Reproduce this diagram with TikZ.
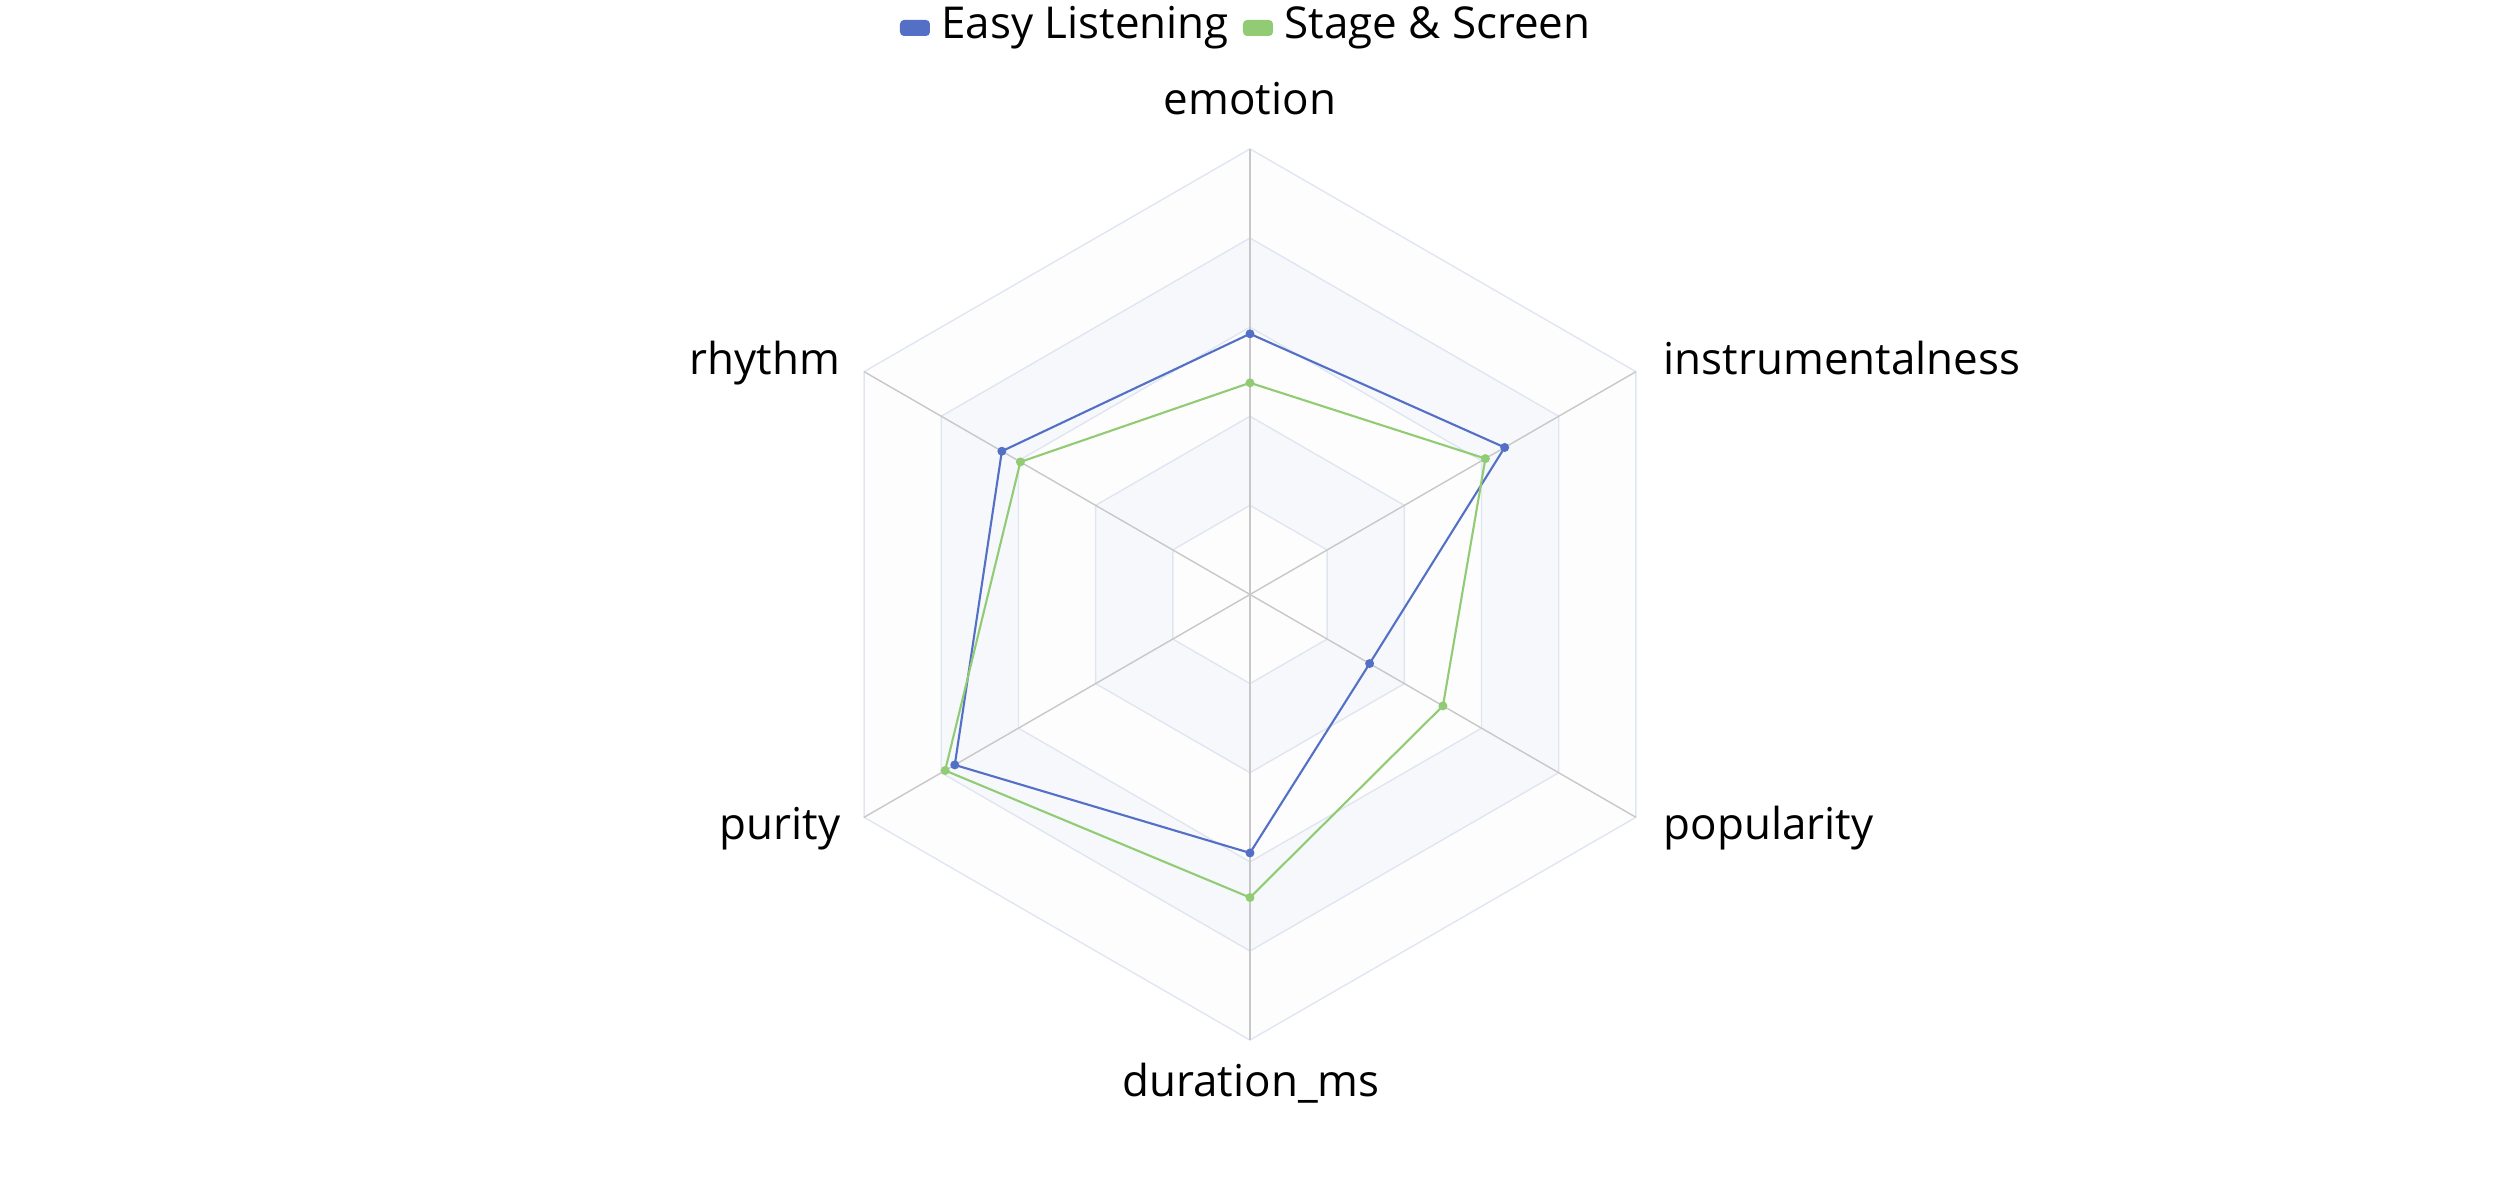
\documentclass[tikz,border=0pt]{standalone}
\usepackage{fontspec}
\setmainfont{Open Sans}
\usepackage{xcolor}
\usetikzlibrary{positioning,calc}
\definecolor{easyblue}{RGB}{84,112,198}
\definecolor{stagegreen}{RGB}{145,204,117}
\definecolor{splitline}{RGB}{224,230,241}
\definecolor{axisgray}{RGB}{200,200,200}
\definecolor{bandlight}{RGB}{246,248,252}
\definecolor{bandpale}{RGB}{253,253,253}
\tikzset{
    axislabel/.style={inner sep=0pt, font=\fontsize{12.5pt}{15pt}\selectfont},
    ring/.style={draw=splitline, line width=0.4pt},
    spoke/.style={draw=axisgray, line width=0.4pt},
    series/.style={line width=0.6pt, line join=round},
    marker/.style={circle, inner sep=0pt, minimum size=0.09cm},
    legendkey/.style={rectangle, rounded corners=0.04cm, inner sep=0pt, minimum width=0.30cm, minimum height=0.16cm}
}

\begin{document}
\begin{tikzpicture}
    \useasboundingbox (-12.50,-5.955) rectangle (12.52,5.945);
    \coordinate (centre) at (0,0);
    % shaded bands
    \foreach \r/\col in {5/bandpale,4/bandlight,3/bandpale,2/bandlight,1/bandpale}
        \fill[\col] (90:{\r*0.8912}) \foreach \a in {30,-30,-90,-150,150}{ -- (\a:{\r*0.8912})} -- cycle;
    % split lines
    \foreach \r in {1,...,5}
        \draw[ring] (90:{\r*0.8912}) \foreach \a in {30,-30,-90,-150,150}{ -- (\a:{\r*0.8912})} -- cycle;
    % axes
    \foreach \a in {90,30,-30,-90,-150,150} {
        \coordinate (ax\a) at (\a:4.456);
        \draw[spoke] (centre) -- (ax\a);
    }

    % Easy Listening
    \foreach \a/\v [count=\i] in {90/0.585,30/0.66,-30/0.31,-90/0.58,-150/0.765,150/0.643}
        \coordinate (easy\i) at (\a:{\v*4.456});
    \draw[series, easyblue] (easy1) -- (easy2) -- (easy3) -- (easy4) -- (easy5) -- (easy6) -- cycle;
    \foreach \i in {1,...,6}
        \node[marker, fill=easyblue] (easydot\i) at (easy\i) {};

    % Stage & Screen
    \foreach \a/\v [count=\i] in {90/0.475,30/0.61,-30/0.50,-90/0.68,-150/0.79,150/0.595}
        \coordinate (stage\i) at (\a:{\v*4.456});
    \draw[series, stagegreen] (stage1) -- (stage2) -- (stage3) -- (stage4) -- (stage5) -- (stage6) -- cycle;
    \foreach \i in {1,...,6}
        \node[marker, fill=stagegreen] (stagedot\i) at (stage\i) {};

    % axis names
    \node[axislabel, anchor=base] (emotion) at (0,4.795) {emotion};
    \node[axislabel, anchor=base west] (instrumentalness) at (4.13,2.195) {instrumentalness};
    \node[axislabel, anchor=base west] (popularity) at (4.13,-2.448) {popularity};
    \node[axislabel, anchor=base] (duration) at (0.01,-5.022) {duration\_ms};
    \node[axislabel, anchor=base east] (purity) at (-4.09,-2.448) {purity};
    \node[axislabel, anchor=base east] (rhythm) at (-4.09,2.195) {rhythm};

    % legend
    \node[legendkey, fill=easyblue] (keyeasy) at (-3.35,5.665) {};
    \node[axislabel, right=0.10cm of keyeasy] (txteasy) {Easy Listening};
    \node[legendkey, fill=stagegreen] (keystage) at (0.08,5.665) {};
    \node[axislabel, right=0.10cm of keystage] (txtstage) {Stage \& Screen};
\end{tikzpicture}
\end{document}
